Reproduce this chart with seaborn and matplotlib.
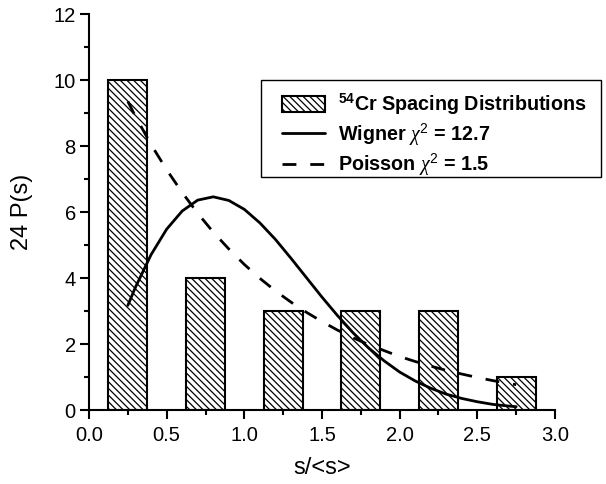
import numpy as np
import pandas as pd
import seaborn as sns
import matplotlib
matplotlib.use("Agg")
import matplotlib.pyplot as plt
from matplotlib.ticker import MultipleLocator, FormatStrFormatter
from matplotlib.lines import Line2D
from matplotlib.patches import Patch, Rectangle

# ---- data ----
bin_centers = [0.25, 0.75, 1.25, 1.75, 2.25, 2.75]
counts = [10, 4, 3, 3, 3, 1]

s_curve = [0.25, 0.3, 0.4, 0.5, 0.6, 0.7, 0.8, 0.9, 1.0, 1.1, 1.2, 1.3, 1.4,
           1.5, 1.6, 1.7, 1.8, 1.9, 2.0, 2.1, 2.2, 2.3, 2.4, 2.5, 2.6, 2.7, 2.75]
wigner = [3.17, 3.73, 4.71, 5.48, 6.03, 6.36, 6.46, 6.35, 6.08, 5.67, 5.17,
          4.60, 4.01, 3.42, 2.86, 2.34, 1.88, 1.49, 1.15, 0.88, 0.66, 0.48,
          0.35, 0.25, 0.17, 0.12, 0.10]
poisson = [9.35, 8.89, 8.04, 7.28, 6.59, 5.96, 5.39, 4.88, 4.41, 3.99, 3.61,
           3.27, 2.96, 2.68, 2.42, 2.19, 1.98, 1.80, 1.62, 1.47, 1.33, 1.20,
           1.09, 0.985, 0.891, 0.806, 0.767]

legend_labels = [r"$^{\mathbf{54}}$Cr Spacing Distributions",
                 r"Wigner $\chi^{2}$ = 12.7",
                 r"Poisson $\chi^{2}$ = 1.5"]

sns.set_theme(style="ticks")
plt.rcParams["font.family"] = ["Liberation Sans", "DejaVu Sans"]
plt.rcParams["mathtext.fontset"] = "custom"
plt.rcParams["mathtext.rm"] = "Liberation Sans"
plt.rcParams["mathtext.it"] = "Liberation Serif:italic"
plt.rcParams["mathtext.bf"] = "Liberation Sans:bold"
plt.rcParams["hatch.linewidth"] = 0.9
plt.rcParams["hatch.color"] = "black"
plt.rcParams["text.color"] = "black"
plt.rcParams["axes.labelcolor"] = "black"
plt.rcParams["xtick.color"] = "black"
plt.rcParams["ytick.color"] = "black"

DASH = (0, (5, 5))

fig = plt.figure(figsize=(6.06, 4.84), dpi=100)
ax = fig.add_axes([89/606, 1 - 410/484, (555-89)/606, (410-14)/484])

df = pd.DataFrame({"s": bin_centers, "n": counts})
sns.barplot(data=df, x="s", y="n", native_scale=True, width=0.5,
            color="white", edgecolor="black", linewidth=1.5,
            hatch="\\\\\\\\\\", ax=ax, zorder=1)
for p in ax.patches:
    p.set_facecolor("white")
    p.set_edgecolor("black")

sns.lineplot(x=s_curve, y=wigner, color="black", linewidth=2.0, ax=ax,
             sort=False, zorder=3)
sns.lineplot(x=s_curve, y=poisson, color="black", linewidth=2.0, ax=ax,
             sort=False, zorder=3, linestyle=DASH)

ax.set_xlim(0, 3.0)
ax.set_ylim(0, 12)
ax.xaxis.set_major_locator(MultipleLocator(0.5))
ax.xaxis.set_minor_locator(MultipleLocator(0.25))
ax.yaxis.set_major_locator(MultipleLocator(2))
ax.yaxis.set_minor_locator(MultipleLocator(1))
ax.xaxis.set_major_formatter(FormatStrFormatter("%.1f"))
ax.yaxis.set_major_formatter(FormatStrFormatter("%d"))

for sp in ["top", "right"]:
    ax.spines[sp].set_visible(False)
for sp in ["left", "bottom"]:
    ax.spines[sp].set_linewidth(1.5)
    ax.spines[sp].set_color("black")
ax.tick_params(which="major", direction="out", length=6.5, width=1.5,
               labelsize=14.5, colors="black", labelcolor="black", pad=3)
ax.tick_params(axis="x", which="major", pad=5)
ax.tick_params(which="minor", direction="out", length=3.5, width=1.5,
               colors="black")
ax.set_xlabel("s/<s>", fontsize=17, labelpad=9, color="black")
ax.set_ylabel("24 P(s)", fontsize=17, labelpad=15, color="black")
ax.grid(False)

# legend frame drawn separately (extends past the axes)
fig.add_artist(Rectangle((261/606, 1 - 177/484), (601-261)/606, (177-80)/484,
                         transform=fig.transFigure, facecolor="white",
                         edgecolor="black", linewidth=1.0, zorder=5))

handles = [Patch(facecolor="white", edgecolor="black", hatch="\\\\\\\\\\",
                 linewidth=1.5),
           Line2D([], [], color="black", lw=2.0),
           Line2D([], [], color="black", lw=2.0, linestyle=DASH)]
leg = fig.legend(handles, legend_labels, loc="upper left",
                 bbox_to_anchor=(282/606, 1 - 92/484),
                 frameon=False,
                 prop={"weight": "bold", "size": 14.2},
                 handlelength=2.17, handleheight=0.86, labelspacing=0.22,
                 borderpad=0, handletextpad=0.65, borderaxespad=0)
leg.set_zorder(6)
for t in leg.get_texts():
    t.set_color("black")

fig.savefig("out.png", dpi=100)
